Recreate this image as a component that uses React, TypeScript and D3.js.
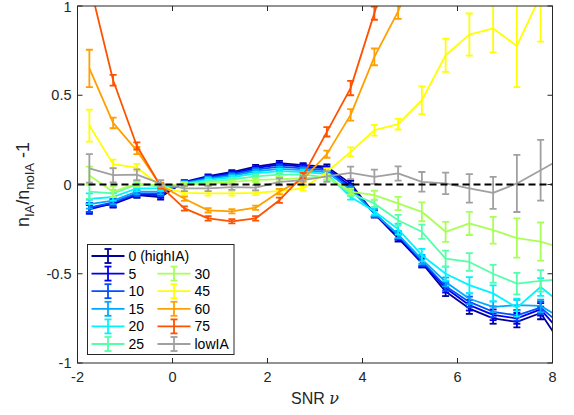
import React from "react";
import * as d3 from "d3";

// SNR positions of the bins (last one sits just outside the axis, gets clipped)
const snr = [-1.75, -1.25, -0.75, -0.25, 0.25, 0.75, 1.25, 1.75, 2.25, 2.75, 3.25, 3.75, 4.25, 4.75, 5.25, 5.75, 6.25, 6.75, 7.25, 7.75, 8.25];

const v0 = [-0.13, -0.11, -0.06, -0.07, 0.015, 0.047, 0.07, 0.1, 0.12, 0.108, 0.1, 0.005, -0.165, -0.3, -0.44, -0.6, -0.695, -0.75, -0.77, -0.72, -0.92];
const v5 = [-0.14, -0.105, -0.055, -0.06, 0.012, 0.042, 0.063, 0.092, 0.112, 0.1, 0.09, -0.01, -0.16, -0.29, -0.435, -0.58, -0.676, -0.73, -0.75, -0.7, -0.85];
const v10 = [-0.13, -0.1, -0.05, -0.05, 0.01, 0.037, 0.056, 0.083, 0.1, 0.09, 0.08, -0.02, -0.16, -0.285, -0.43, -0.57, -0.658, -0.713, -0.733, -0.69, -0.8];
const v15 = [-0.11, -0.09, -0.04, -0.04, 0.008, 0.032, 0.048, 0.074, 0.088, 0.08, 0.07, -0.03, -0.16, -0.28, -0.42, -0.546, -0.64, -0.685, -0.676, -0.68, -0.76];
const v20 = [-0.08, -0.07, -0.022, -0.02, 0.005, 0.026, 0.04, 0.062, 0.075, 0.07, 0.06, -0.07, -0.15, -0.25, -0.396, -0.5, -0.564, -0.61, -0.69, -0.574, -0.68];
const v25 = [-0.04, -0.05, 0.0, -0.01, 0.003, 0.016, 0.028, 0.045, 0.055, 0.055, 0.04, -0.05, -0.106, -0.2, -0.265, -0.415, -0.434, -0.5, -0.555, -0.54, -0.53];
const v30 = [0.05, -0.04, 0.005, -0.005, 0.0, 0.005, 0.015, 0.024, 0.03, 0.035, 0.043, -0.04, -0.06, -0.106, -0.153, -0.265, -0.218, -0.256, -0.3, -0.32, -0.36];
const v45 = [0.33, 0.114, 0.095, -0.01, -0.047, -0.05, -0.05, -0.047, -0.036, -0.022, 0.07, 0.183, 0.304, 0.338, 0.472, 0.724, 0.84, 0.874, 0.776, 1.06, 1.3];
const v60 = [0.65, 0.345, 0.19, -0.005, -0.08, -0.145, -0.15, -0.13, -0.04, 0.03, 0.17, 0.39, 0.715, 0.97, 1.3, null, null, null, null, null, null];
const v75 = [1.13, 0.584, 0.216, -0.01, -0.134, -0.19, -0.206, -0.19, -0.088, 0.05, 0.295, 0.54, 0.96, 1.4, null, null, null, null, null, null, null];
const vLow = [0.09, 0.052, 0.055, 0.005, -0.022, -0.022, -0.015, -0.018, 0.015, 0.024, 0.045, 0.065, 0.043, 0.062, 0.015, 0.006, -0.022, -0.047, 0.006, 0.08, 0.155];

// error bar half-lengths
const eBlue = [0.025, 0.02, 0.015, 0.015, 0.01, 0.01, 0.01, 0.01, 0.012, 0.012, 0.012, 0.015, 0.02, 0.02, 0.025, 0.025, 0.03, 0.03, 0.03, 0.035, 0.035];
const e20 = [0.03, 0.02, 0.015, 0.015, 0.01, 0.01, 0.01, 0.01, 0.012, 0.012, 0.015, 0.015, 0.02, 0.03, 0.035, 0.04, 0.045, 0.045, 0.05, 0.05, 0.05];
const e25 = [0.04, 0.02, 0.015, 0.015, 0.01, 0.01, 0.01, 0.01, 0.012, 0.012, 0.015, 0.015, 0.02, 0.03, 0.04, 0.045, 0.05, 0.05, 0.06, 0.06, 0.06];
const e30 = [0.05, 0.03, 0.015, 0.015, 0.01, 0.01, 0.01, 0.01, 0.012, 0.012, 0.015, 0.015, 0.025, 0.037, 0.053, 0.056, 0.065, 0.075, 0.11, 0.107, 0.11];
const e45 = [0.09, 0.025, 0.02, 0.015, 0.012, 0.012, 0.012, 0.012, 0.012, 0.012, 0.02, 0.025, 0.03, 0.03, 0.078, 0.093, 0.118, 0.134, 0.23, 0.26, 0.26];
const e60 = [0.105, 0.03, 0.02, 0.015, 0.012, 0.012, 0.012, 0.012, 0.015, 0.015, 0.02, 0.032, 0.047, 0.042, 0.05, 0, 0, 0, 0, 0, 0];
const e75 = [0.12, 0.03, 0.02, 0.015, 0.012, 0.012, 0.012, 0.012, 0.015, 0.015, 0.026, 0.04, 0.037, 0.05, 0, 0, 0, 0, 0, 0, 0];
const eLow = [0.08, 0.04, 0.03, 0.02, 0.015, 0.015, 0.015, 0.015, 0.02, 0.025, 0.03, 0.035, 0.04, 0.04, 0.055, 0.06, 0.08, 0.09, 0.16, 0.17, 0.17];

const names = ["0 (highIA)", "5", "10", "15", "20", "25", "30", "45", "60", "75", "lowIA"];
const colors = ["#00009c", "#0000f0", "#0050ff", "#00a8ff", "#00f4ff", "#55ffaa", "#a8ff58", "#ffff00", "#ffa000", "#ff5200", "#a0a0a0"];
const values = [v0, v5, v10, v15, v20, v25, v30, v45, v60, v75, vLow];
const errors = [eBlue, eBlue, eBlue, eBlue, e20, e25, e30, e45, e60, e75, eLow];

const xTicks = [-2, 0, 2, 4, 6, 8];
const yTicks = [-1, -0.5, 0, 0.5, 1];

const W = 574, H = 415;
const left = 77.5, right = 552.5, top = 6, bottom = 363;
const axisColor = "#262626";
const font = "'Liberation Sans', Arial, Helvetica, sans-serif";

export default function App() {
  const x = d3.scaleLinear().domain([-2, 8]).range([left, right]);
  const y = d3.scaleLinear().domain([-1, 1]).range([bottom, top]);

  const line = d3.line<any>()
    .defined(d => d.v != null)
    .x(d => x(d.x))
    .y(d => y(d.v));

  const series = values.map((vals, si) =>
    vals.map((v, i) => ({ x: snr[i], v, e: errors[si][i] }))
  );

  const cap = 3.5;
  const tick = 5;

  // legend layout
  const legLeft = 87.5, legTop = 244.5, legW = 146.5, legH = 110;
  const rowH = 17.6;
  const legendItems = names.map((n, i) => {
    const col = i < 6 ? 0 : 1;
    const row = i < 6 ? i : i - 5;
    return { n, c: colors[i], col, row };
  });

  return (
    <svg width={W} height={H} style={{ position: "absolute", left: 0, top: 0, background: "white" }}
      fontFamily={font}>
      <defs>
        <clipPath id="plotclip">
          <rect x={left} y={top} width={right - left} height={bottom - top} />
        </clipPath>
      </defs>
      <rect x={0} y={0} width={W} height={H} fill="white" />

      <g clipPath="url(#plotclip)">
        {series.map((pts, si) => (
          <g key={si} stroke={colors[si]} strokeWidth={1.8} fill="none">
            <path d={line(pts) || ""} strokeLinejoin="round" />
            {pts.filter(p => p.v != null).map((p, i) => {
              const px = x(p.x), y1 = y(p.v + p.e), y2 = y(p.v - p.e);
              return (
                <g key={i}>
                  <line x1={px} x2={px} y1={y1} y2={y2} />
                  <line x1={px - cap} x2={px + cap} y1={y1} y2={y1} />
                  <line x1={px - cap} x2={px + cap} y1={y2} y2={y2} />
                </g>
              );
            })}
          </g>
        ))}
        <line x1={x(-2)} x2={x(8)} y1={y(0)} y2={y(0)} stroke="black" strokeWidth={2} strokeDasharray="7,4" />
      </g>

      {/* axes box and ticks */}
      <rect x={left} y={top} width={right - left} height={bottom - top} fill="none" stroke={axisColor} strokeWidth={1} />
      {xTicks.map(t => (
        <g key={"x" + t} stroke={axisColor}>
          <line x1={x(t)} x2={x(t)} y1={bottom} y2={bottom - tick} />
          <line x1={x(t)} x2={x(t)} y1={top} y2={top + tick} />
        </g>
      ))}
      {yTicks.map(t => (
        <g key={"y" + t} stroke={axisColor}>
          <line x1={left} x2={left + tick} y1={y(t)} y2={y(t)} />
          <line x1={right} x2={right - tick} y1={y(t)} y2={y(t)} />
        </g>
      ))}
      {xTicks.map(t => (
        <text key={"xl" + t} x={x(t)} y={bottom + 19} textAnchor="middle" fontSize={14.5} fill={axisColor}>
          {t < 0 ? "-" + Math.abs(t) : t}
        </text>
      ))}
      {yTicks.map(t => (
        <text key={"yl" + t} x={left - 6} y={Math.max(y(t) + 5, 12)} textAnchor="end" fontSize={14.5} fill={axisColor}>
          {t < 0 ? "-" + Math.abs(t) : t}
        </text>
      ))}

      <text x={(left + right) / 2} y={404} textAnchor="middle" fontSize={16} fill={axisColor}>
        SNR <tspan fontStyle="italic" fontFamily="'DejaVu Serif', serif">ν</tspan>
      </text>

      <text transform={`translate(29,${(top + bottom) / 2}) rotate(-90)`} textAnchor="middle" fontSize={18} fill={axisColor}>
        n<tspan fontSize={13} dy={5}>IA</tspan><tspan dy={-5}>/n</tspan><tspan fontSize={13} dy={5}>noIA</tspan><tspan dy={-5}> -1</tspan>
      </text>

      {/* legend */}
      <rect x={legLeft} y={legTop} width={legW} height={legH} fill="white" stroke={axisColor} strokeWidth={1} />
      {legendItems.map((it, i) => {
        const lx = it.col === 0 ? 91.5 : 157.5;
        const cy = 256 + it.row * rowH;
        const mx = lx + 16.5;
        return (
          <g key={i}>
            <g stroke={it.c} strokeWidth={1.8}>
              <line x1={lx} x2={lx + 33} y1={cy} y2={cy} />
              <line x1={mx} x2={mx} y1={cy - 7} y2={cy + 7} />
              <line x1={mx - cap} x2={mx + cap} y1={cy - 7} y2={cy - 7} />
              <line x1={mx - cap} x2={mx + cap} y1={cy + 7} y2={cy + 7} />
            </g>
            <text x={lx + 37} y={cy + 5} fontSize={14} fill="black">{it.n}</text>
          </g>
        );
      })}
    </svg>
  );
}
